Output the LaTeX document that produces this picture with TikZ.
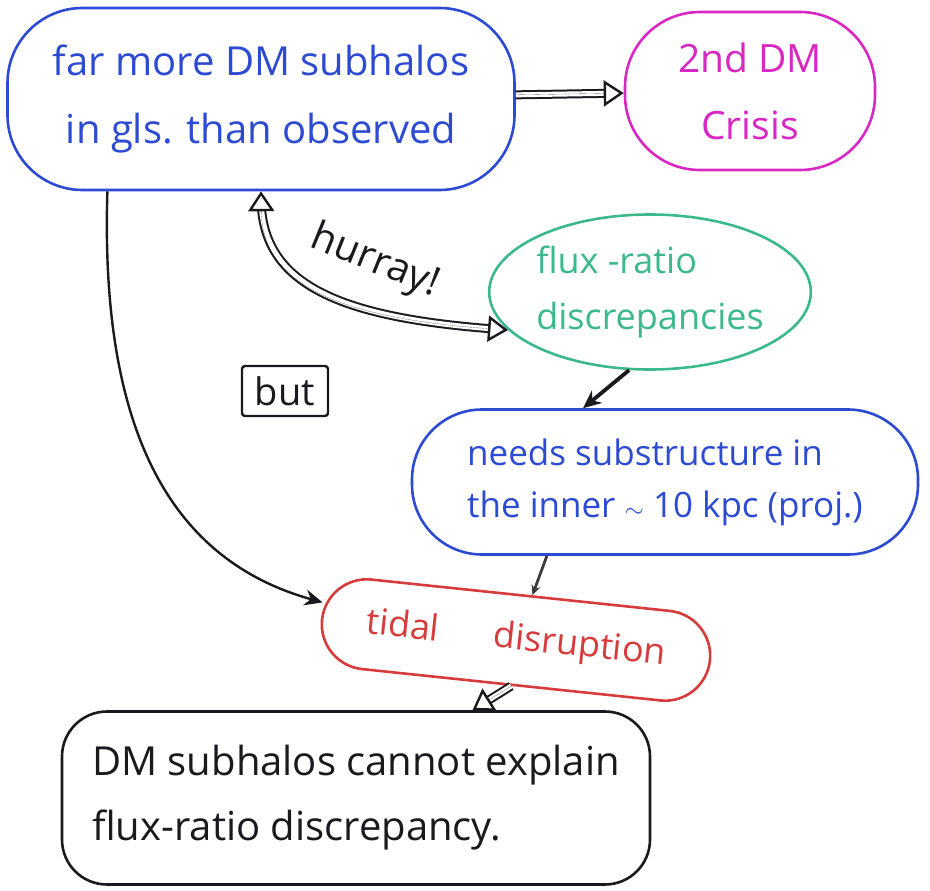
\documentclass[tikz,border=0pt]{standalone}
\usepackage{fontspec}
\setmainfont{Open Sans}
\usetikzlibrary{arrows.meta,shapes.geometric}
\definecolor{pblue}{RGB}{45,75,210}
\definecolor{pmag}{RGB}{215,40,195}
\definecolor{pgreen}{RGB}{60,185,140}
\definecolor{pred}{RGB}{215,60,60}
\definecolor{pink}{RGB}{25,25,30}
\tikzset{
  box/.style={draw, line width=2.6pt, inner sep=0pt, align=left},
  dshaft/.style={draw=pink, line width=2pt, double=white, double distance=5pt},
  dhead/.style={draw=pink, line width=0.1pt,
    >={Triangle[open, fill=white, length=20pt, width=26pt, line width=2.4pt]}},
  solidarr/.style={draw=pink, line width=3.8pt, -{Stealth[length=18pt,width=16pt]}},
  thinarr/.style={draw=pink!85, line width=2.8pt, -{Stealth[length=10pt,width=9pt]}},
}
\begin{document}
\begin{tikzpicture}[x=1pt,y=-1pt]
\useasboundingbox (0,0) rectangle (930,891);
% boxes
\node[box, draw=pblue, text=pblue, rounded corners=75pt, minimum width=507pt, minimum height=182pt,
      align=center, font=\fontsize{40}{68}\selectfont] (top) at (261,99)
  {far more DM subhalos\\in gls. than observed};
\node[box, draw=pmag, text=pmag, rounded corners=75pt, minimum width=250pt, minimum height=158pt,
      align=center, font=\fontsize{39}{67}\selectfont] (crisis) at (750,91)
  {2nd DM\\Crisis};
\node[box, draw=pgreen, text=pgreen, ellipse, minimum width=290pt, minimum height=155pt,
      font=\fontsize{36}{56}\selectfont] (flux) at (650,292)
  {flux -ratio\\discrepancies};
\node[box, draw=pblue, text=pblue, rounded corners=70pt, minimum width=506pt, minimum height=145pt,
      font=\fontsize{35}{52}\selectfont] (needs) at (665,482)
  {needs substructure in\\the inner $\sim$ 10 kpc (proj.)};
\node[box, draw=pred, text=pred, rounded corners=45pt, minimum width=390pt, minimum height=90pt,
      rotate=-6, font=\fontsize{36}{40}\selectfont] (tidal) at (516,640)
  {tidal\hspace{55pt}disruption};
\node[box, draw=pink, text=pink, rounded corners=45pt, minimum width=588pt, minimum height=173pt,
      font=\fontsize{40}{65}\selectfont] (concl) at (356,798)
  {DM subhalos cannot explain\\flux-ratio discrepancy.};
\node[box, draw=pink, text=pink, line width=2.4pt, rounded corners=3pt, minimum width=86pt, minimum height=50pt,
      align=center, font=\fontsize{38}{40}\selectfont] (but) at (285,391) {but};
% connectors
\draw[dshaft, shorten >=8pt] (top) -- (crisis);
\draw[dhead, ->] (top) -- (crisis);
\draw[dshaft, shorten >=8pt, shorten <=8pt]
  (top.south) .. controls (262,285) and (340,318) .. (flux.195);
\draw[dhead, <->]
  (top.south) .. controls (262,285) and (340,318) .. (flux.195);
\node[text=pink, rotate=-22, font=\fontsize{40}{44}\selectfont] (hurray) at (375,262) {hurray!};
\draw[solidarr] (flux.255) -- (needs.138);
\draw[thinarr] (needs.212) -- (tidal);
\draw[draw=pink, line width=2.4pt, -{Stealth[length=18pt,width=16pt]}]
  (top.211) .. controls (100,430) and (170,560) .. (tidal.175);
\draw[dshaft, shorten >=8pt] (tidal.south) -- (concl.37);
\draw[dhead, ->] (tidal.south) -- (concl.37);
\end{tikzpicture}
\end{document}
